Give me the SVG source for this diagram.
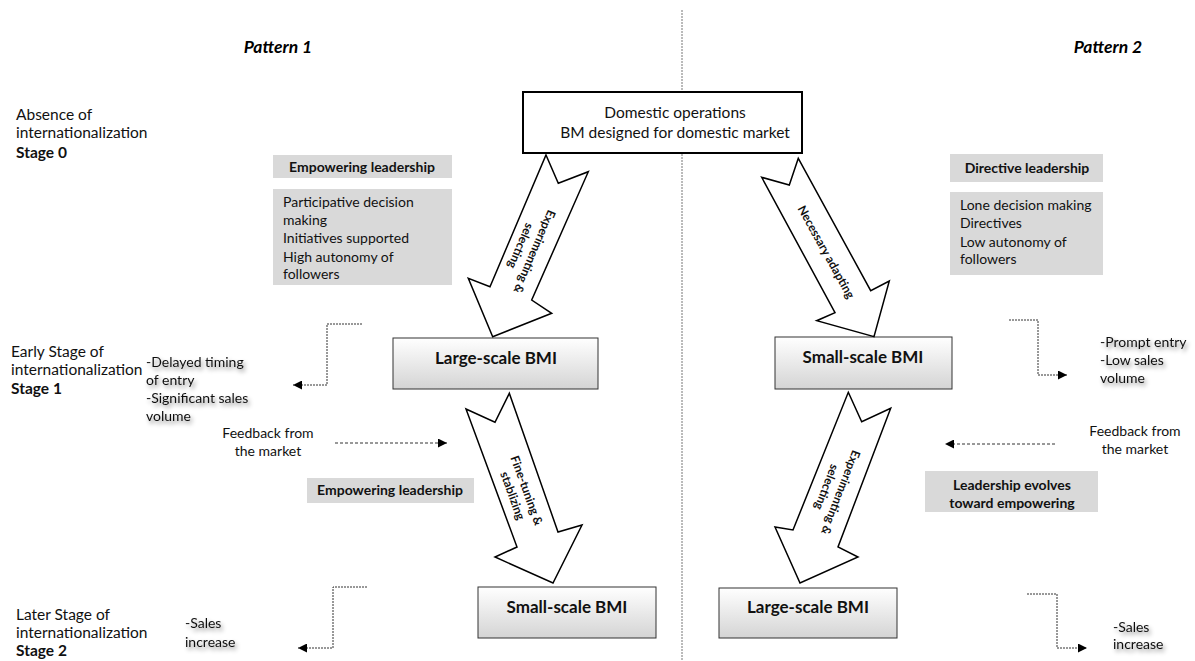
<svg xmlns="http://www.w3.org/2000/svg" width="1195" height="661" viewBox="0 0 1195 661">
<style>
text{font-family:Lato,"Open Sans","Liberation Sans",sans-serif;fill:#111}
.t{font-size:15.5px}
.s{font-size:14px}
.b{font-weight:bold}
.lbl{font-size:12px;font-weight:bold;text-anchor:middle}
.bmi{font-size:17px;font-weight:bold;text-anchor:middle}
.gray{fill:#d9d9d9}
.bmibox{fill:url(#gr);stroke:#333;stroke-width:1}
.blk{fill:#fff;stroke:#000;stroke-width:1.5;stroke-linejoin:miter}
.dot{fill:none;stroke:#333;stroke-width:1;stroke-dasharray:2,1}
.dash{fill:none;stroke:#333;stroke-width:1;stroke-dasharray:3,2}
.mid{text-anchor:middle}
.pat{font-size:17.5px;font-weight:bold;font-style:italic;text-anchor:middle;fill:#000}
</style>
<defs>
<linearGradient id="gr" x1="0" y1="0" x2="0" y2="1">
<stop offset="0" stop-color="#ffffff"/>
<stop offset="1" stop-color="#d4d4d4"/>
</linearGradient>
<filter id="tsh" x="-20%" y="-30%" width="140%" height="180%">
<feGaussianBlur in="SourceAlpha" stdDeviation="2"/>
<feOffset dx="2" dy="3" result="b"/>
<feFlood flood-color="#000" flood-opacity="0.45"/>
<feComposite in2="b" operator="in"/>
<feMerge><feMergeNode/><feMergeNode in="SourceGraphic"/></feMerge>
</filter>
<marker id="ah" viewBox="0 0 10 10" refX="10" refY="5" markerWidth="11" markerHeight="9" markerUnits="userSpaceOnUse" orient="auto">
<path d="M0,0 L10,5 L0,10 z" fill="#000"/>
</marker>
</defs>
<rect width="1195" height="661" fill="#fff"/>

<line x1="682" y1="10" x2="682" y2="661" stroke="#777" stroke-width="1" stroke-dasharray="2,1"/>

<g id="headers">
<text x="278" y="53" class="pat">Pattern 1</text>
<text x="1108" y="53" class="pat">Pattern 2</text>
</g>

<g id="stages">
<text class="t" x="16" y="120">Absence of</text>
<text class="t" x="16" y="138">internationalization</text>
<text class="t b" x="16" y="158">Stage 0</text>
<text class="t" x="11" y="357">Early Stage of</text>
<text class="t" x="11" y="375">internationalization</text>
<text class="t b" x="11" y="394">Stage 1</text>
<text class="t" x="16" y="620">Later Stage of</text>
<text class="t" x="16" y="638">internationalization</text>
<text class="t b" x="16" y="656">Stage 2</text>
</g>

<g id="domestic">
<rect x="523" y="92" width="279" height="61" fill="#fff" stroke="#000" stroke-width="2"/>
<text class="t mid" x="675" y="118">Domestic operations</text>
<text class="t mid" x="675" y="138">BM designed for domestic market</text>
</g>

<g id="empowering1">
<rect class="gray" x="273" y="155" width="179" height="23"/>
<text class="s b mid" x="362" y="172">Empowering leadership</text>
<rect class="gray" x="273" y="189" width="179" height="96"/>
<text class="s" x="283" y="207">Participative decision</text>
<text class="s" x="283" y="225">making</text>
<text class="s" x="283" y="243">Initiatives supported</text>
<text class="s" x="283" y="262">High autonomy of</text>
<text class="s" x="283" y="279">followers</text>
</g>

<g id="directive">
<rect class="gray" x="950" y="154" width="153" height="28"/>
<text class="s b mid" x="1027" y="173">Directive leadership</text>
<rect class="gray" x="950" y="192" width="153" height="83"/>
<text class="s" x="960" y="210">Lone decision making</text>
<text class="s" x="960" y="228">Directives</text>
<text class="s" x="960" y="247">Low autonomy of</text>
<text class="s" x="960" y="264">followers</text>
</g>

<g id="large1">
<rect class="bmibox" x="393" y="338" width="205" height="51"/>
<text class="bmi" x="496" y="364">Large-scale BMI</text>
</g>
<g id="small1">
<rect class="bmibox" x="775" y="337" width="177" height="52"/>
<text class="bmi" x="863" y="363">Small-scale BMI</text>
</g>
<g id="small2">
<rect class="bmibox" x="478" y="587" width="178" height="51"/>
<text class="bmi" x="567" y="613">Small-scale BMI</text>
</g>
<g id="large2">
<rect class="bmibox" x="719" y="588" width="178" height="50"/>
<text class="bmi" x="808" y="613">Large-scale BMI</text>
</g>

<g id="empowering2">
<rect class="gray" x="307" y="478" width="167" height="25"/>
<text class="s b mid" x="390" y="495">Empowering leadership</text>
</g>
<g id="evolves">
<rect class="gray" x="925" y="471" width="173" height="41"/>
<text class="s b mid" x="1012" y="490">Leadership evolves</text>
<text class="s b mid" x="1012" y="508">toward empowering</text>
</g>

<g id="outcomes">
<g filter="url(#tsh)">
<text class="s" x="146" y="367">-Delayed timing</text>
<text class="s" x="146" y="385">of entry</text>
<text class="s" x="146" y="403">-Significant sales</text>
<text class="s" x="146" y="421">volume</text>
<text class="s" x="1100" y="347">-Prompt entry</text>
<text class="s" x="1100" y="365">-Low sales</text>
<text class="s" x="1100" y="383">volume</text>
<text class="s" x="185" y="628">-Sales</text>
<text class="s" x="185" y="647">increase</text>
<text class="s" x="1113" y="632">-Sales</text>
<text class="s" x="1113" y="649">increase</text>
</g>
<text class="s mid" x="268" y="438">Feedback from</text>
<text class="s mid" x="268" y="456">the market</text>
<text class="s mid" x="1135" y="436">Feedback from</text>
<text class="s mid" x="1135" y="454">the market</text>
</g>

<g id="connectors">
<polygon class="blk" points="546,155 558.3,183.3 588.3,171.7 531.7,300 551.7,313.3 492.7,336.7 468.3,278.3 490,286.7"/>
<text class="lbl" transform="translate(528,249) rotate(113)"><tspan x="0" y="-3">Experimenting &amp;</tspan><tspan x="0" y="12">selecting</tspan></text>

<polygon class="blk" points="509.3,393.3 495,422.3 466,409 517,547 495,557 553,583 582,525 558,532"/>
<text class="lbl" transform="translate(520,493) rotate(70)"><tspan x="0" y="-3">Fine-tuning &amp;</tspan><tspan x="0" y="12">stablizing</tspan></text>

<polygon class="blk" points="798.3,158.3 789.3,185 761.7,177.3 835,312.7 816.7,320.7 874,336.7 889.3,281 870.7,290.7"/>
<text class="lbl" transform="translate(826,252) rotate(61)" y="4">Necessary adapting</text>

<polygon class="blk" points="848.3,392.3 861.7,421.7 890.7,408.3 838,547 858,557 800,583 775,527 793,530"/>
<text class="lbl" transform="translate(834,490) rotate(111)"><tspan x="0" y="-3">Experimenting &amp;</tspan><tspan x="0" y="12">selecting</tspan></text>

<polyline class="dot" points="362,324 327,324 327,385 293,385" marker-end="url(#ah)"/>
<polyline class="dot" points="367,587 333,587 333,648 298,648" marker-end="url(#ah)"/>
<polyline class="dot" points="1009,320 1038,320 1038,375 1067,375" marker-end="url(#ah)"/>
<polyline class="dot" points="1027,594 1057,594 1057,648 1087,648" marker-end="url(#ah)"/>
<line class="dash" x1="335" y1="443" x2="447" y2="443" marker-end="url(#ah)"/>
<line class="dash" x1="1055" y1="444" x2="945" y2="444" marker-end="url(#ah)"/>
</g>
</svg>
